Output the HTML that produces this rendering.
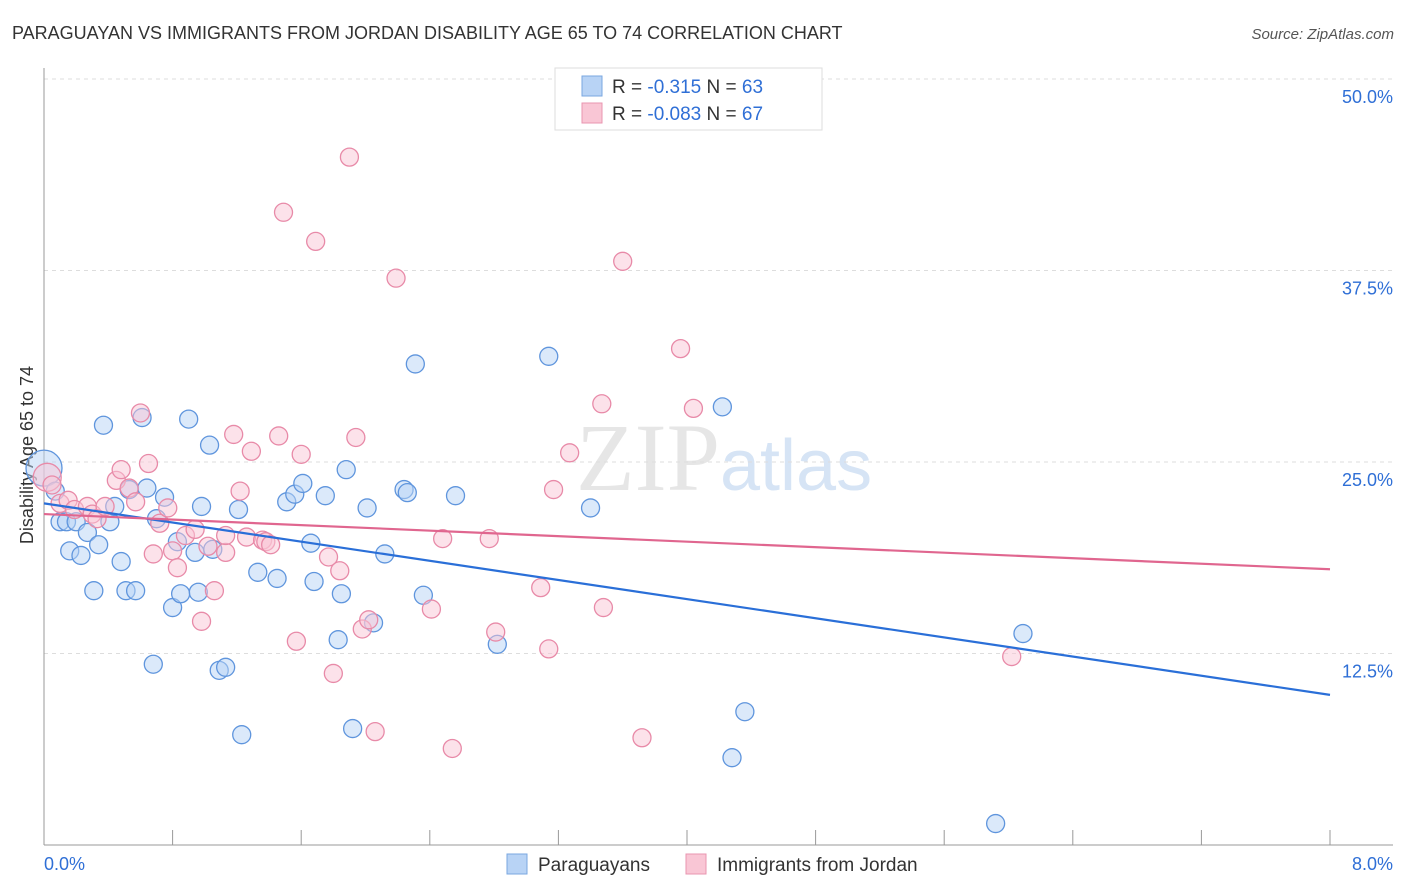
<!DOCTYPE html>
<html><head><meta charset="utf-8"><style>
body{margin:0;background:#fff;font-family:"Liberation Sans",sans-serif}
svg{display:block}
</style></head><body>
<svg id="chart" width="1406" height="892">
<text x="12" y="39" font-size="18" fill="#333">PARAGUAYAN VS IMMIGRANTS FROM JORDAN DISABILITY AGE 65 TO 74 CORRELATION CHART</text>
<text x="1394" y="39" font-size="15" fill="#555" font-style="italic" text-anchor="end">Source: ZipAtlas.com</text>
<text x="720" y="490" font-size="96" fill="#e6e6e6" text-anchor="end" font-family="Liberation Serif,serif">ZIP</text>
<text x="720" y="490" font-size="72" fill="#d6e4f5">atlas</text>
<text transform="translate(33,455) rotate(-90)" font-size="18" fill="#333" text-anchor="middle">Disability Age 65 to 74</text>
<g id="grid"></g><g id="pts"></g><g id="lines"></g>
<g>
<rect x="555" y="68" width="267" height="62" fill="#fff" stroke="#ddd"/>
<rect x="582" y="76" width="20" height="20" fill="#b8d3f5" stroke="#7aa7e0"/>
<rect x="582" y="103" width="20" height="20" fill="#f9c6d5" stroke="#e995b0"/>
<text x="612" y="93" font-size="19" fill="#333">R = <tspan fill="#2f6fd6">-0.315</tspan>   N = <tspan fill="#2f6fd6">63</tspan></text>
<text x="612" y="120" font-size="19" fill="#333">R = <tspan fill="#2f6fd6">-0.083</tspan>   N = <tspan fill="#2f6fd6">67</tspan></text>
</g>
<g>
<rect x="507" y="854" width="20" height="20" fill="#b8d3f5" stroke="#7aa7e0"/>
<text x="538" y="871" font-size="19" fill="#333">Paraguayans</text>
<rect x="686" y="854" width="20" height="20" fill="#f9c6d5" stroke="#e995b0"/>
<text x="717" y="871" font-size="19" fill="#333">Immigrants from Jordan</text>
</g>
</svg>
<script>
const yTicks=[12.5,25,37.5,50];
const yTickLabels=["12.5%","25.0%","37.5%","50.0%"];
const xEnds=["0.0%","8.0%"];
const blueX=[0,0.07,0.10,0.14,0.20,0.16,0.23,0.27,0.34,0.31,0.37,0.41,0.44,0.48,0.51,0.57,0.53,0.61,0.64,0.70,0.68,0.75,0.80,0.83,0.85,0.90,0.94,0.96,0.98,1.03,1.05,1.09,1.13,1.21,1.23,1.33,1.45,1.51,1.56,1.61,1.66,1.68,1.75,1.83,1.85,1.88,1.92,2.01,2.05,2.12,2.24,2.26,2.31,2.36,2.56,2.82,3.14,3.40,4.22,4.36,4.28,6.09,5.92];
const blueY=[24.6,23.1,21.1,21.1,21.1,19.2,18.9,20.4,19.6,16.6,27.4,21.1,22.1,18.5,16.6,16.6,23.2,27.9,23.3,21.3,11.8,22.7,15.5,19.8,16.4,27.8,19.1,16.5,22.1,26.1,19.3,11.4,11.6,21.9,7.2,17.8,17.4,22.4,22.9,23.6,19.7,17.2,22.8,13.4,16.4,24.5,7.6,22.0,14.5,19.0,23.2,23.0,31.4,16.3,22.8,13.1,31.9,22.0,28.6,8.7,5.7,13.8,1.4];
const pinkX=[0.02,0.05,0.10,0.15,0.19,0.27,0.30,0.33,0.38,0.45,0.48,0.53,0.57,0.60,0.65,0.68,0.72,0.77,0.80,0.83,0.88,0.94,0.98,1.02,1.06,1.13,1.13,1.18,1.22,1.26,1.29,1.36,1.38,1.41,1.46,1.49,1.57,1.60,1.69,1.77,1.80,1.84,1.90,1.94,1.98,2.02,2.06,2.19,2.41,2.48,2.54,2.77,2.81,3.09,3.14,3.17,3.27,3.47,3.48,3.60,3.72,3.96,4.04,6.02];
const pinkY=[24.0,23.5,22.3,22.5,21.9,22.1,21.6,21.3,22.1,23.8,24.5,23.3,22.4,28.2,24.9,19.0,21.0,22.0,19.2,18.1,20.2,20.6,14.6,19.5,16.6,19.1,20.2,26.8,23.1,20.1,25.7,19.9,19.8,19.6,26.7,41.3,13.3,25.5,39.4,18.8,11.2,17.9,44.9,26.6,14.1,14.7,7.4,37.0,15.4,20.0,6.3,20.0,13.9,16.8,12.8,23.2,25.6,28.8,15.5,38.1,7.0,32.4,28.5,12.3];
const blueTrend=[22.3,9.8];
const pinkTrend=[21.6,18.0];
const NS="http://www.w3.org/2000/svg";
const sx=v=>44+v*160.75, sy=v=>79+(50-v)*15.32;
function mk(tag,attrs,parent){const e=document.createElementNS(NS,tag);for(const k in attrs)e.setAttribute(k,attrs[k]);parent.appendChild(e);return e;}
const grid=document.getElementById('grid'),pts=document.getElementById('pts'),lines=document.getElementById('lines');
yTicks.forEach((t,i)=>{
 const l=mk('line',{x1:44,x2:1393,y1:sy(t),y2:sy(t),stroke:'#ddd','stroke-dasharray':'4,4'},grid);
 
 
 const tx=mk('text',{x:1393,y:sy(t)+24,'font-size':18,fill:'#2f6fd6','text-anchor':'end'},grid);
 tx.textContent=yTickLabels[i];
 
 
});
const ax=mk('line',{x1:44,x2:44,y1:68,y2:845,stroke:'#999'},grid);


const bx=mk('line',{x1:44,x2:1393,y1:845,y2:845,stroke:'#999'},grid);


for(let i=1;i<=10;i++){const t=mk('line',{x1:sx(i*0.8),x2:sx(i*0.8),y1:830,y2:845,stroke:'#999'},grid);
 
 }
[[0,'start',44],[8,'end',1393]].forEach((a,i)=>{const t=mk('text',{x:a[2],y:870,'font-size':18,fill:'#2f6fd6','text-anchor':a[1]},grid);t.textContent=xEnds[i];
 
 });
function draw(X,Y,fill,stroke,name){X.forEach((x,i)=>{const r=i===0?(name==='paraguayan-point'?18:14):9;
 const c=mk('circle',{cx:sx(x),cy:sy(Y[i]),r:r,fill:fill,'fill-opacity':0.5,stroke:stroke,'stroke-width':1.3},pts);
 
 });}
draw(blueX,blueY,'#b8d3f5','#5f95dd','paraguayan-point');
draw(pinkX,pinkY,'#f9c6d5','#e88aa8','jordan-point');
const bl=mk('line',{x1:sx(0),x2:sx(8),y1:sy(blueTrend[0]),y2:sy(blueTrend[1]),stroke:'#2a6fd8','stroke-width':2.2},lines);


const pl=mk('line',{x1:sx(0),x2:sx(8),y1:sy(pinkTrend[0]),y2:sy(pinkTrend[1]),stroke:'#e0668f','stroke-width':2.2},lines);


</script>
</body></html>
